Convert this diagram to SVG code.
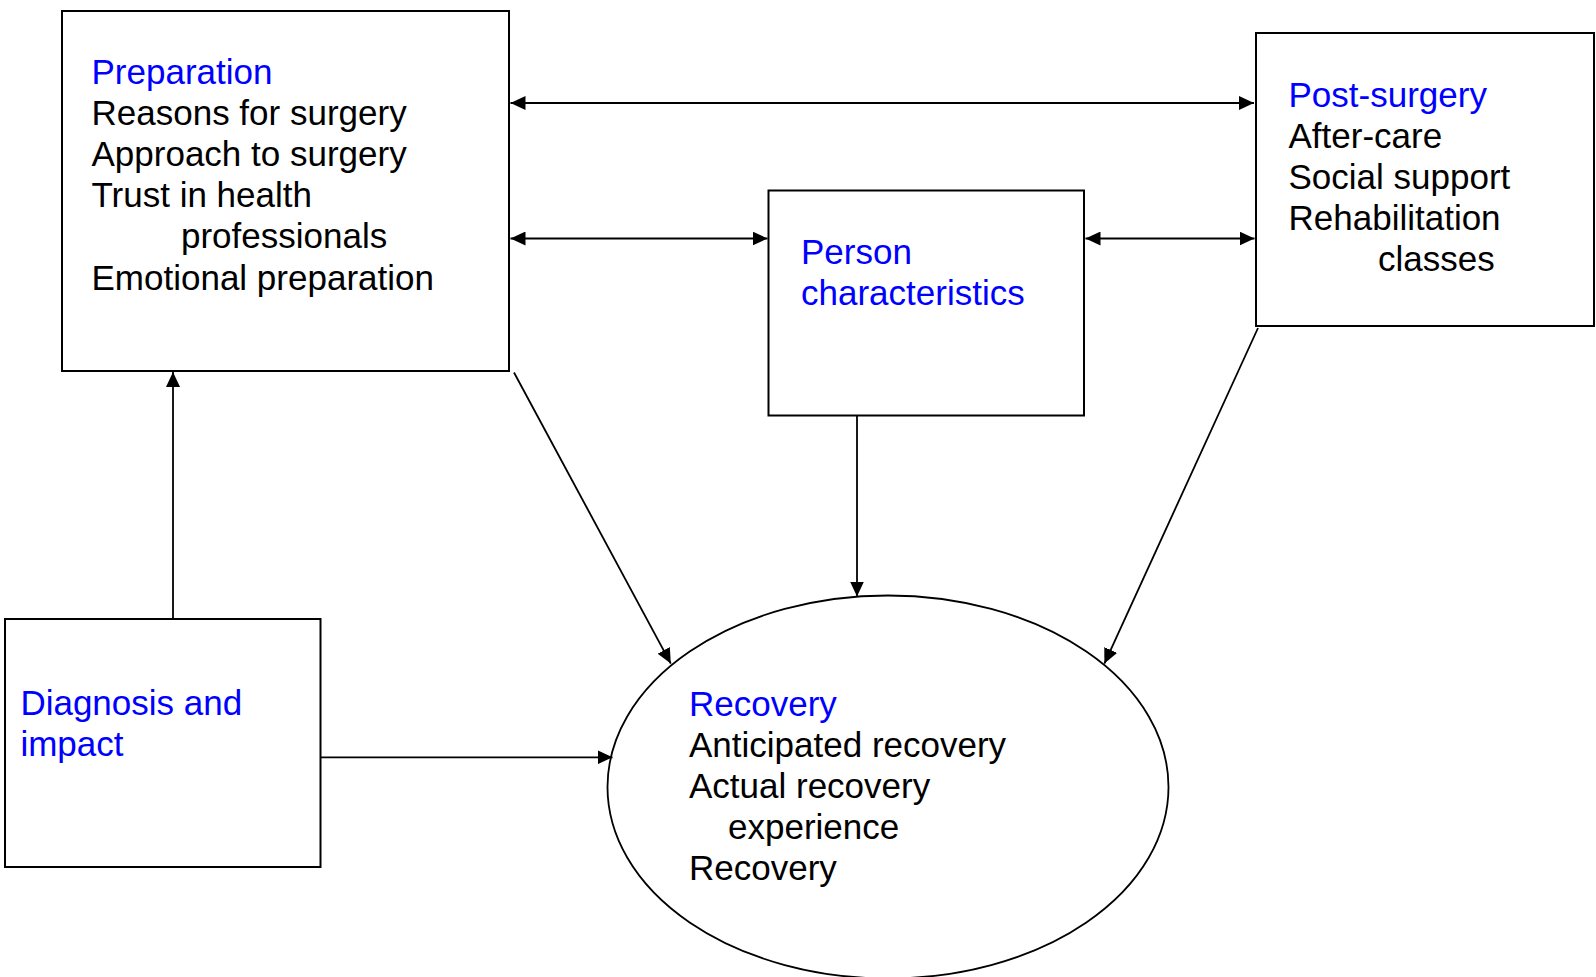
<svg xmlns="http://www.w3.org/2000/svg" width="1596" height="977" viewBox="0 0 1596 977">
<style>
.box{fill:#fff;stroke:#000;stroke-width:2}
.t{font-family:"Liberation Sans",Arial,sans-serif;font-size:35px;fill:#000}
.h{fill:#0000ff}
.c{stroke:#000;stroke-width:1.8;fill:none}
</style>
<defs>
<marker id="ah" markerUnits="userSpaceOnUse" markerWidth="16" markerHeight="14" refX="15" refY="7" orient="auto-start-reverse" viewBox="0 0 16 14">
<path d="M0,0 L15,7 L0,14 z" fill="#000"/>
</marker>
</defs>
<rect width="1596" height="977" fill="#fff"/>
<g id="preparation">
<rect class="box" x="62" y="11" width="447" height="360"/>
<text class="t"><tspan class="h" x="91.5" y="83.5">Preparation</tspan><tspan x="91.5" y="124.7">Reasons for surgery</tspan><tspan x="91.5" y="165.9">Approach to surgery</tspan><tspan x="91.5" y="207.1">Trust in health</tspan><tspan x="181" y="248.3">professionals</tspan><tspan x="91.5" y="289.5">Emotional preparation</tspan></text>
</g>
<g id="post-surgery">
<rect class="box" x="1256" y="33" width="338" height="293"/>
<text class="t"><tspan class="h" x="1288.5" y="106.5">Post-surgery</tspan><tspan x="1288.5" y="147.7">After-care</tspan><tspan x="1288.5" y="188.9">Social support</tspan><tspan x="1288.5" y="230.1">Rehabilitation</tspan><tspan x="1378" y="271.3">classes</tspan></text>
</g>
<g id="person">
<rect class="box" x="768.5" y="190.5" width="315.5" height="225"/>
<text class="t h"><tspan x="801" y="264">Person</tspan><tspan x="801" y="305.2">characteristics</tspan></text>
</g>
<g id="diagnosis">
<rect class="box" x="5" y="619" width="315.5" height="248"/>
<text class="t h"><tspan x="20.4" y="714.5">Diagnosis and</tspan><tspan x="20.4" y="755.7">impact</tspan></text>
</g>
<g id="recovery">
<ellipse cx="888" cy="787" rx="280.5" ry="191.5" fill="#fff" stroke="#000" stroke-width="1.8"/>
<text class="t"><tspan class="h" x="689" y="715.5">Recovery</tspan><tspan x="689" y="756.7">Anticipated recovery</tspan><tspan x="689" y="797.9">Actual recovery</tspan><tspan x="728" y="839.1">experience</tspan><tspan x="689" y="880.3">Recovery</tspan></text>
</g>
<g id="connectors">
<line class="c" x1="510.5" y1="103" x2="1254" y2="103" marker-start="url(#ah)" marker-end="url(#ah)"/>
<line class="c" x1="510.5" y1="238.5" x2="767.5" y2="238.5" marker-start="url(#ah)" marker-end="url(#ah)"/>
<line class="c" x1="1085.5" y1="238.5" x2="1254.5" y2="238.5" marker-start="url(#ah)" marker-end="url(#ah)"/>
<line class="c" x1="173" y1="619" x2="173" y2="372" marker-end="url(#ah)"/>
<line class="c" x1="320.5" y1="757.3" x2="612.5" y2="757.3" marker-end="url(#ah)"/>
<line class="c" x1="857" y1="415.5" x2="857" y2="596.5" marker-end="url(#ah)"/>
<line class="c" x1="514" y1="372.5" x2="670.8" y2="663.6" marker-end="url(#ah)"/>
<line class="c" x1="1258" y1="328" x2="1104.4" y2="663.6" marker-end="url(#ah)"/>
</g>
</svg>
